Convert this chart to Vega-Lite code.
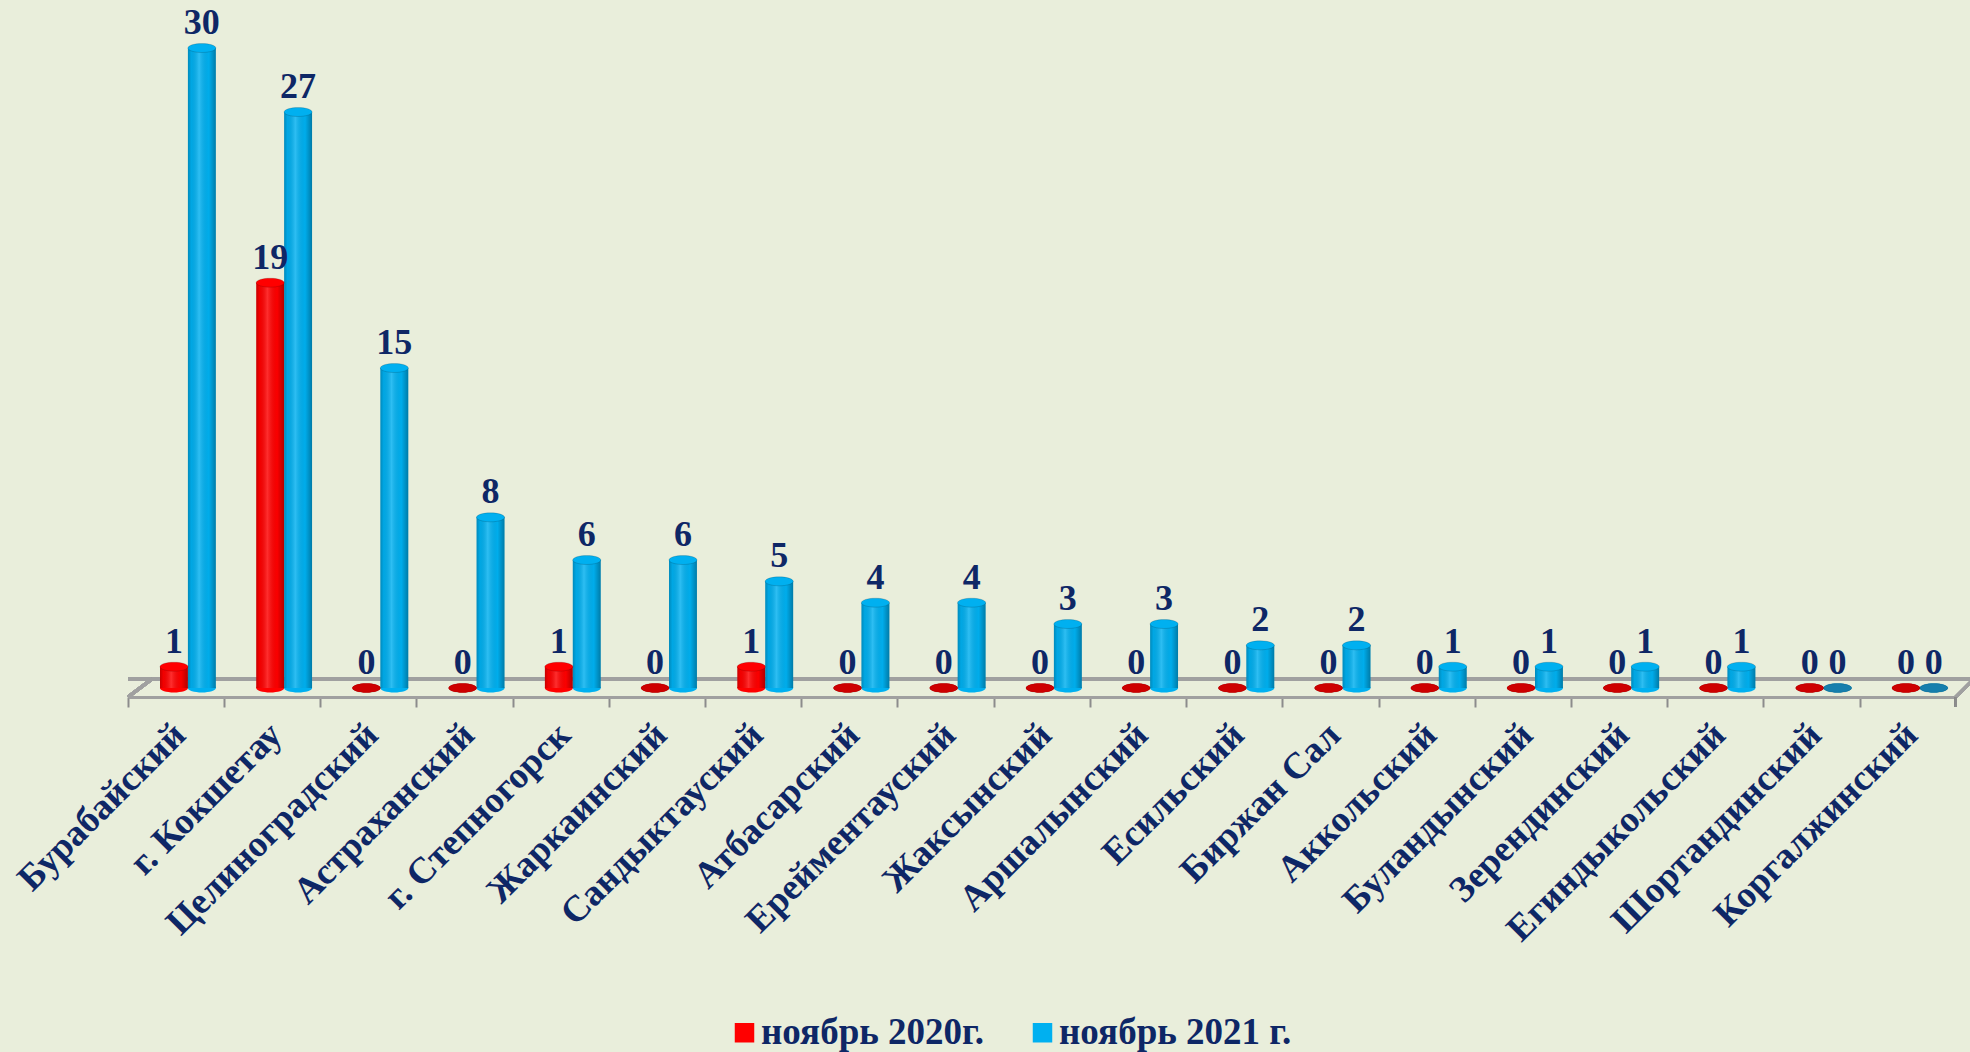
{
  "$schema": "https://vega.github.io/schema/vega-lite/v6.json",
  "width": 1828,
  "height": 640,
  "autosize": {"type": "none"},
  "padding": {"left": 128, "top": 48, "right": 14, "bottom": 364},
  "background": "#E9EEDB",
  "config": {
    "view": {"stroke": null},
    "font": "Liberation Serif"
  },
  "data": {
    "values": [
      {"district": "Бурабайский", "period": "ноябрь 2020г.", "value": 1},
      {"district": "Бурабайский", "period": "ноябрь 2021 г.", "value": 30},
      {"district": "г. Кокшетау", "period": "ноябрь 2020г.", "value": 19},
      {"district": "г. Кокшетау", "period": "ноябрь 2021 г.", "value": 27},
      {"district": "Целиноградский", "period": "ноябрь 2020г.", "value": 0},
      {"district": "Целиноградский", "period": "ноябрь 2021 г.", "value": 15},
      {"district": "Астраханский", "period": "ноябрь 2020г.", "value": 0},
      {"district": "Астраханский", "period": "ноябрь 2021 г.", "value": 8},
      {"district": "г. Степногорск", "period": "ноябрь 2020г.", "value": 1},
      {"district": "г. Степногорск", "period": "ноябрь 2021 г.", "value": 6},
      {"district": "Жаркаинский", "period": "ноябрь 2020г.", "value": 0},
      {"district": "Жаркаинский", "period": "ноябрь 2021 г.", "value": 6},
      {"district": "Сандыктауский", "period": "ноябрь 2020г.", "value": 1},
      {"district": "Сандыктауский", "period": "ноябрь 2021 г.", "value": 5},
      {"district": "Атбасарский", "period": "ноябрь 2020г.", "value": 0},
      {"district": "Атбасарский", "period": "ноябрь 2021 г.", "value": 4},
      {"district": "Ерейментауский", "period": "ноябрь 2020г.", "value": 0},
      {"district": "Ерейментауский", "period": "ноябрь 2021 г.", "value": 4},
      {"district": "Жаксынский", "period": "ноябрь 2020г.", "value": 0},
      {"district": "Жаксынский", "period": "ноябрь 2021 г.", "value": 3},
      {"district": "Аршалынский", "period": "ноябрь 2020г.", "value": 0},
      {"district": "Аршалынский", "period": "ноябрь 2021 г.", "value": 3},
      {"district": "Есильский", "period": "ноябрь 2020г.", "value": 0},
      {"district": "Есильский", "period": "ноябрь 2021 г.", "value": 2},
      {"district": "Биржан Сал", "period": "ноябрь 2020г.", "value": 0},
      {"district": "Биржан Сал", "period": "ноябрь 2021 г.", "value": 2},
      {"district": "Аккольский", "period": "ноябрь 2020г.", "value": 0},
      {"district": "Аккольский", "period": "ноябрь 2021 г.", "value": 1},
      {"district": "Буландынский", "period": "ноябрь 2020г.", "value": 0},
      {"district": "Буландынский", "period": "ноябрь 2021 г.", "value": 1},
      {"district": "Зерендинский", "period": "ноябрь 2020г.", "value": 0},
      {"district": "Зерендинский", "period": "ноябрь 2021 г.", "value": 1},
      {"district": "Егиндыкольский", "period": "ноябрь 2020г.", "value": 0},
      {"district": "Егиндыкольский", "period": "ноябрь 2021 г.", "value": 1},
      {"district": "Шортандинский", "period": "ноябрь 2020г.", "value": 0},
      {"district": "Шортандинский", "period": "ноябрь 2021 г.", "value": 0},
      {"district": "Коргалжинский", "period": "ноябрь 2020г.", "value": 0},
      {"district": "Коргалжинский", "period": "ноябрь 2021 г.", "value": 0}
    ]
  },
  "encoding": {
    "x": {
      "field": "district",
      "type": "nominal",
      "sort": null,
      "scale": {
        "domain": ["Бурабайский", "г. Кокшетау", "Целиноградский", "Астраханский", "г. Степногорск", "Жаркаинский", "Сандыктауский", "Атбасарский", "Ерейментауский", "Жаксынский", "Аршалынский", "Есильский", "Биржан Сал", "Аккольский", "Буландынский", "Зерендинский", "Егиндыкольский", "Шортандинский", "Коргалжинский"],
        "paddingInner": 0.42,
        "paddingOuter": 0.209,
        "align": 0.796
      },
      "axis": {
        "title": null,
        "orient": "bottom",
        "offset": 9,
        "bandPosition": -0.571,
        "domainColor": "#A0A0A0",
        "domainWidth": 3,
        "tickColor": "#8C8C8C",
        "tickWidth": 2,
        "tickSize": 10,
        "labelAngle": -45,
        "labelAlign": "right",
        "labelBaseline": "middle",
        "labelOffset": -8,
        "labelPadding": 22,
        "labelFont": "Liberation Serif",
        "labelFontWeight": "bold",
        "labelFontSize": 37,
        "labelColor": "#0E2766",
        "labelOverlap": false,
        "labelLimit": 500
      }
    },
    "xOffset": {"field": "period", "type": "nominal", "sort": null},
    "y": {
      "field": "value",
      "type": "quantitative",
      "scale": {"domain": [0, 30], "nice": false},
      "axis": null
    },
    "color": {
      "field": "period",
      "type": "nominal",
      "sort": null,
      "scale": {"range": ["#FF0000", "#00B0F0"]},
      "legend": {
        "title": null,
        "orient": "none",
        "direction": "horizontal",
        "legendX": 598,
        "legendY": 966,
        "symbolType": "square",
        "symbolSize": 380,
        "symbolStrokeWidth": 0,
        "labelFont": "Liberation Serif",
        "labelFontWeight": "bold",
        "labelFontSize": 37,
        "labelColor": "#0E2766",
        "columnPadding": 40,
        "labelOffset": -2,
        "labelLimit": 400
      }
    }
  },
  "layer": [
    {
      "mark": {"type": "rule", "color": "#A0A0A0", "strokeWidth": 3, "yOffset": -9, "xOffset": 24, "x2Offset": 40},
      "encoding": {"y": {"datum": 0}, "x": null, "xOffset": null, "color": null}
    },
    {
      "mark": {"type": "rule", "color": "#A0A0A0", "strokeWidth": 3, "xOffset": -32, "x2Offset": -8, "yOffset": 9, "y2Offset": -9},
      "encoding": {
        "x": {"datum": "Бурабайский", "bandPosition": 0},
        "x2": {"datum": "Бурабайский", "bandPosition": 0},
        "y": {"datum": 0},
        "y2": {"datum": 0},
        "xOffset": null,
        "color": null
      }
    },
    {
      "mark": {"type": "rule", "color": "#A0A0A0", "strokeWidth": 3, "xOffset": 8, "x2Offset": 28, "yOffset": 9, "y2Offset": -11},
      "encoding": {
        "x": {"datum": "Коргалжинский", "bandPosition": 1},
        "x2": {"datum": "Коргалжинский", "bandPosition": 1},
        "y": {"datum": 0},
        "y2": {"datum": 0},
        "xOffset": null,
        "color": null
      }
    },
    {
      "mark": {"type": "rule", "color": "#8C8C8C", "strokeWidth": 2, "xOffset": 8, "x2Offset": 8, "yOffset": 9, "y2Offset": 19},
      "encoding": {
        "x": {"datum": "Коргалжинский", "bandPosition": 1},
        "x2": {"datum": "Коргалжинский", "bandPosition": 1},
        "y": {"datum": 0},
        "y2": {"datum": 0},
        "xOffset": null,
        "color": null
      }
    },
    {
      "mark": {
        "type": "point",
        "filled": true,
        "opacity": 1,
        "size": 784,
        "shape": "M-1,0 A1,0.32 0 1,0 1,0 A1,0.32 0 1,0 -1,0 Z"
      },
      "encoding": {"y": {"datum": 0}}
    },
    {
      "mark": {"type": "bar"}
    },
    {
      "mark": {
        "type": "bar",
        "fill": {
          "gradient": "linear",
          "x1": 0, "y1": 0, "x2": 1, "y2": 0,
          "stops": [
            {"offset": 0, "color": "rgba(0,0,0,0.22)"},
            {"offset": 0.12, "color": "rgba(0,0,0,0.05)"},
            {"offset": 0.4, "color": "rgba(255,255,255,0.18)"},
            {"offset": 0.75, "color": "rgba(0,0,0,0.02)"},
            {"offset": 1, "color": "rgba(0,0,0,0.3)"}
          ]
        }
      },
      "encoding": {"color": null}
    },
    {
      "mark": {
        "type": "point",
        "filled": true,
        "opacity": 1,
        "size": 784,
        "shape": "M-1,0 A1,0.32 0 1,0 1,0 A1,0.32 0 1,0 -1,0 Z",
        "stroke": "rgba(0,0,0,0.15)",
        "strokeWidth": 1
      }
    },
    {
      "transform": [{"filter": "datum.value === 0"}],
      "mark": {
        "type": "point",
        "filled": true,
        "opacity": 1,
        "size": 784,
        "fill": "rgba(80,0,0,0.28)",
        "shape": "M-1,0 A1,0.32 0 1,0 1,0 A1,0.32 0 1,0 -1,0 Z"
      },
      "encoding": {"color": null}
    },
    {
      "mark": {
        "type": "text",
        "baseline": "alphabetic",
        "dy": -14,
        "font": "Liberation Serif",
        "fontWeight": "bold",
        "fontSize": 36,
        "fill": "#0E2766"
      },
      "encoding": {"text": {"field": "value", "type": "quantitative"}, "color": null}
    }
  ]
}
